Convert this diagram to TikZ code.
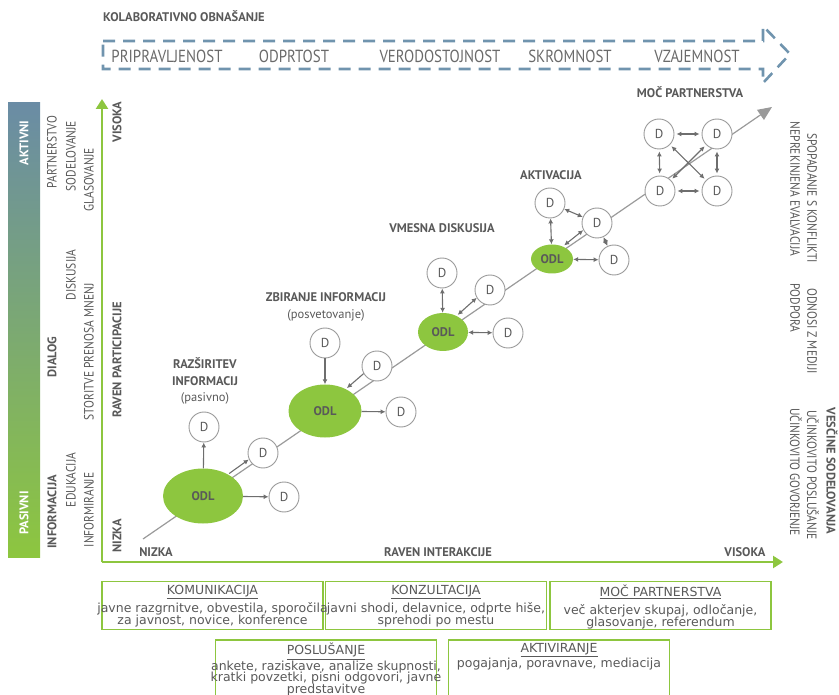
\documentclass[tikz,border=0pt]{standalone}
\usepackage{fontspec}
\setmainfont{PT Sans}
\newfontfamily\narrowfont{PT Sans}[FakeStretch=0.85]
\newfontfamily\boxfont{DejaVu Sans}
\usepackage{xcolor}
\usepackage{tikz}
\usetikzlibrary{arrows.meta,positioning,shapes.geometric}

\definecolor{odlgreen}{HTML}{8DC63F}
\definecolor{txtgray}{HTML}{595959}
\definecolor{dashblue}{HTML}{7094AE}
\definecolor{ringgray}{HTML}{9A9A9A}
\definecolor{arrgray}{HTML}{6E6E6E}
\definecolor{slateblue}{HTML}{6A8CA5}

\newcommand\tightskip{\setlength{\lineskiplimit}{-20pt}}

\tikzset{
  lbl/.style={text=txtgray,inner sep=0pt,font=\bfseries\fontsize{12.5}{16.5}\selectfont},
  thinlbl/.style={text=txtgray,inner sep=0pt,font=\narrowfont\fontsize{13.5}{15}\selectfont},
  toplbl/.style={text=txtgray!90,inner sep=0pt,font=\narrowfont\fontsize{17.5}{18}\selectfont},
  dnode/.style={circle,draw=ringgray,fill=white,line width=0.9pt,minimum size=30pt,
    inner sep=0pt,text=txtgray,font=\fontsize{13}{15}\selectfont},
  odl/.style={ellipse,fill=odlgreen,inner sep=0pt,text=txtgray,
    font=\bfseries\fontsize{12.5}{15}\selectfont},
  infobox/.style={draw=odlgreen,line width=1.8pt,minimum width=221pt,inner sep=0pt},
  boxtext/.style={text=txtgray,align=center,inner sep=0pt,
    font=\boxfont\fontsize{12.5}{11.5}\selectfont\tightskip},
}

\begin{document}
\begin{tikzpicture}[x=1pt,y=-1pt,>={Latex[length=5pt,width=5pt]}]
\useasboundingbox (0,0) rectangle (839,695);
\clip (0,0) rectangle (839,695);

% collaborative behaviour band
\node[lbl,anchor=west] (kolab) at (103,16) {KOLABORATIVNO OBNAŠANJE};
\draw[dashblue,line width=2.6pt,dash pattern=on 12pt off 8pt]
  (103,41) -- (763,41) -- (763,26) -- (790,54) -- (763,83) -- (763,69) -- (103,69) -- cycle;
\node[toplbl] (pripr) at (167,56) {PRIPRAVLJENOST};
\node[toplbl] (odprt) at (294,56) {ODPRTOST};
\node[toplbl] (verod) at (440,56) {VERODOSTOJNOST};
\node[toplbl] (skrom) at (570,56) {SKROMNOST};
\node[toplbl] (vzaj) at (697,56) {VZAJEMNOST};

% left bar
\shade[top color=slateblue,bottom color=odlgreen] (8,103) rectangle (40,557);
\node[lbl,text=white,rotate=90] (aktivni) at (24,143) {AKTIVNI};
\node[lbl,text=white,rotate=90] (pasivni) at (24,513) {PASIVNI};

\node[thinlbl,rotate=90] (partn) at (52,152) {PARTNERSTVO};
\node[lbl,rotate=90] (dialog) at (52,357) {DIALOG};
\node[lbl,rotate=90] (inform) at (52,512) {INFORMACIJA};
\node[thinlbl,rotate=90] (sodel) at (71,156) {SODELOVANJE};
\node[thinlbl,rotate=90] (disk) at (71,275) {DISKUSIJA};
\node[thinlbl,rotate=90] (eduk) at (71,480) {EDUKACIJA};
\node[thinlbl,rotate=90] (glas) at (89,180) {GLASOVANJE};
\node[thinlbl,rotate=90] (storit) at (89,352) {STORITVE PRENOSA MNENJ};
\node[thinlbl,rotate=90] (informir) at (89,510) {INFORMIRANJE};

% right side
\node[thinlbl,rotate=-90] (neprek) at (795,189) {NEPREKINJENA EVALVACIJA};
\node[thinlbl,rotate=-90] (podpora) at (795,308) {PODPORA};
\node[thinlbl,rotate=-90] (spopad) at (812,198) {SPOPADANJE S KONFLIKTI};
\node[thinlbl,rotate=-90] (odnosi) at (812,331) {ODNOSI Z MEDIJI};
\node[lbl,rotate=-90] (vescine) at (832,471) {VESČINE SODELOVANJA};
\node[thinlbl,rotate=-90] (poslus) at (813,475) {UČINKOVITO POSLUŠANJE};
\node[thinlbl,rotate=-90] (govor) at (796,472) {UČINKOVITO GOVORJENJE};

% axes
\coordinate (origin) at (102,562);
\coordinate (xend) at (783,562);
\coordinate (yend) at (102,99);
\draw[odlgreen,line width=2.6pt,-{Triangle[length=10pt,width=12pt]}] (origin) -- (xend);
\draw[odlgreen,line width=2.6pt,-{Triangle[length=10pt,width=12pt]}] (origin) -- (yend);
\node[lbl] (xlow) at (156,552) {NIZKA};
\node[lbl] (xname) at (438,552) {RAVEN INTERAKCIJE};
\node[lbl] (xhigh) at (745,552) {VISOKA};
\node[lbl,rotate=90] (ylow) at (117,536) {NIZKA};
\node[lbl,rotate=90] (yname) at (117,360) {RAVEN PARTICIPACIJE};
\node[lbl,rotate=90] (yhigh) at (117,122) {VISOKA};

% main diagonal
\coordinate (diagStart) at (143,539);
\coordinate (diagEnd) at (772,107);
\draw[ringgray,line width=1.2pt,-{Triangle[length=14pt,width=12pt]}] (diagStart) -- (diagEnd);

% stage 1
\node[odl,minimum width=80pt,minimum height=55pt] (odlA) at (203,496) {ODL};
\node[dnode] (dAup) at (204,427) {D};
\node[dnode] (dAdiag) at (263,453) {D};
\node[dnode] (dAright) at (284,497) {D};
\node[lbl,align=center] (stageA) at (205,381) {RAZŠIRITEV\\INFORMACIJ\\{\mdseries (pasivno)}};
\path[->,arrgray,line width=1.1pt] (odlA) edge (dAup);
\path[->,arrgray,line width=1.1pt] (odlA) edge (dAright);
\path[->,arrgray,line width=1.1pt,transform canvas={shift={(-1.7pt,2.5pt)}}] (odlA) edge (dAdiag);

% stage 2
\node[odl,minimum width=73pt,minimum height=53pt] (odlB) at (325,411) {ODL};
\node[dnode] (dBup) at (325,343) {D};
\node[dnode] (dBdiag) at (377,366) {D};
\node[dnode] (dBright) at (401,412) {D};
\node[lbl,align=center] (stageB) at (326,307) {ZBIRANJE INFORMACIJ\\{\mdseries (posvetovanje)}};
\path[->,arrgray,line width=1.1pt] (dBup) edge (odlB);
\path[->,arrgray,line width=1.1pt] (odlB) edge (dBright);
\path[->,arrgray,line width=1.1pt,transform canvas={shift={(-1.7pt,2.5pt)}}] (dBdiag) edge (odlB);

% stage 3
\node[odl,minimum width=50pt,minimum height=38pt] (odlC) at (443,332) {ODL};
\node[dnode] (dCup) at (442,273) {D};
\node[dnode] (dCdiag) at (490,290) {D};
\node[dnode] (dCright) at (508,333) {D};
\node[lbl] (stageC) at (442,228) {VMESNA DISKUSIJA};
\path[<->,arrgray,line width=1.1pt] (odlC) edge (dCup);
\path[<->,arrgray,line width=1.1pt] (odlC) edge (dCright);
\path[<->,arrgray,line width=1.1pt,transform canvas={shift={(-1.7pt,2.5pt)}}] (odlC) edge (dCdiag);

% stage 4
\node[odl,minimum width=42pt,minimum height=29pt] (odlD) at (552,259) {ODL};
\node[dnode] (dDup) at (550,203) {D};
\node[dnode] (dDdiag) at (597,223) {D};
\node[dnode] (dDright) at (614,260) {D};
\node[lbl] (stageD) at (551,175) {AKTIVACIJA};
\path[<->,arrgray,line width=1.1pt] (odlD) edge (dDup);
\path[<->,arrgray,line width=1.1pt] (dDup) edge (dDdiag);
\path[<->,arrgray,line width=1.1pt] (dDdiag) edge (dDright);
\path[<->,arrgray,line width=1.1pt] (odlD) edge (dDright);
\path[<->,arrgray,line width=1.1pt,transform canvas={shift={(-1.7pt,2.5pt)}}] (odlD) edge (dDdiag);

% stage 5
\node[dnode] (dE1) at (659,134) {D};
\node[dnode] (dE2) at (717,134) {D};
\node[dnode] (dE3) at (660,191) {D};
\node[dnode] (dE4) at (717,191) {D};
\node[lbl] (stageE) at (690,92) {MOČ PARTNERSTVA};
\path[<->,arrgray,line width=1.1pt,shorten <=2pt,shorten >=2pt] (dE1) edge (dE2) (dE3) edge (dE4)
  (dE1) edge (dE3) (dE2) edge (dE4) (dE1) edge (dE4) (dE3) edge (dE2);

% method boxes
\node[infobox,minimum height=48pt] (komBox) at (212.5,605.5) {};
\node[infobox,minimum height=48pt] (konBox) at (436,605.5) {};
\node[infobox,minimum height=48pt] (mocBox) at (660.5,605.5) {};
\node[infobox,minimum height=64pt] (posBox) at (326,672) {};
\node[infobox,minimum height=64pt] (aktBox) at (559,672) {};
\node[boxtext,below=4pt of komBox.north] (komTxt)
  {\underline{KOMUNIKACIJA}\\[7pt]javne razgrnitve, obvestila, sporočila\\za javnost, novice, konference};
\node[boxtext,below=4pt of konBox.north] (konTxt)
  {\underline{KONZULTACIJA}\\[7pt]javni shodi, delavnice, odprte hiše,\\sprehodi po mestu};
\node[boxtext,below=4pt of mocBox.north] (mocTxt)
  {\underline{MOČ PARTNERSTVA}\\[7pt]več akterjev skupaj, odločanje,\\glasovanje, referendum};
\node[boxtext,below=4pt of posBox.north] (posTxt)
  {\underline{POSLUŠANJE}\\[4pt]ankete, raziskave, analize skupnosti,\\kratki povzetki, pisni odgovori, javne\\predstavitve};
\node[boxtext,below=4pt of aktBox.north] (aktTxt)
  {\underline{AKTIVIRANJE}\\[4pt]pogajanja, poravnave, mediacija};
\end{tikzpicture}
\end{document}
